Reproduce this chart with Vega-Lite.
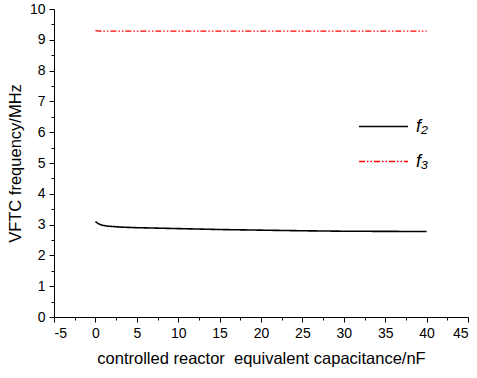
{
  "$schema": "https://vega.github.io/schema/vega-lite/v6.json",
  "width": 414,
  "height": 308,
  "autosize": "none",
  "padding": {"left": 54, "top": 9, "right": 9, "bottom": 61},
  "background": "white",
  "config": {
    "view": {"stroke": null},
    "font": "Liberation Sans",
    "axis": {"grid": false, "domainColor": "black", "tickColor": "black", "labelColor": "black", "titleColor": "black", "labelFont": "Liberation Sans", "titleFont": "Liberation Sans", "labelFontSize": 14, "titleFontWeight": "normal", "domainWidth": 1, "tickWidth": 1}
  },
  "datasets": {
    "curves": [
      {"c": 0, "f": 3.10, "s": "f₂"},
      {"c": 0.3, "f": 3.04, "s": "f₂"},
      {"c": 0.6, "f": 3.00, "s": "f₂"},
      {"c": 1, "f": 2.97, "s": "f₂"},
      {"c": 1.5, "f": 2.95, "s": "f₂"},
      {"c": 2, "f": 2.94, "s": "f₂"},
      {"c": 3, "f": 2.92, "s": "f₂"},
      {"c": 5, "f": 2.90, "s": "f₂"},
      {"c": 7.5, "f": 2.885, "s": "f₂"},
      {"c": 10, "f": 2.87, "s": "f₂"},
      {"c": 15, "f": 2.84, "s": "f₂"},
      {"c": 20, "f": 2.82, "s": "f₂"},
      {"c": 25, "f": 2.80, "s": "f₂"},
      {"c": 30, "f": 2.785, "s": "f₂"},
      {"c": 35, "f": 2.78, "s": "f₂"},
      {"c": 40, "f": 2.775, "s": "f₂"},
      {"c": 0, "f": 9.30, "s": "f₃"},
      {"c": 0.5, "f": 9.285, "s": "f₃"},
      {"c": 10, "f": 9.28, "s": "f₃"},
      {"c": 20, "f": 9.28, "s": "f₃"},
      {"c": 30, "f": 9.28, "s": "f₃"},
      {"c": 40, "f": 9.28, "s": "f₃"}
    ]
  },
  "data": {"name": "curves"},
  "layer": [
    {
      "mark": {"type": "line", "clip": true},
      "encoding": {
        "x": {"field": "c", "type": "quantitative", "scale": {"domain": [-5, 45], "nice": false, "zero": false},
          "axis": {"values": [-5, 0, 5, 10, 15, 20, 25, 30, 35, 40, 45], "labelExpr": "datum.value < 0 ? '-' + abs(datum.value) : datum.label", "tickSize": 5, "labelPadding": 4, "title": "controlled reactor \u00a0equivalent capacitance/nF", "titleFontSize": 16.5, "titlePadding": 10}},
        "y": {"field": "f", "type": "quantitative", "scale": {"domain": [0, 10], "nice": false, "zero": false},
          "axis": {"values": [0, 1, 2, 3, 4, 5, 6, 7, 8, 9, 10], "tickSize": 5, "labelPadding": 4, "title": "VFTC frequency/MHz", "titleFontSize": 16.5, "titlePadding": 6}},
        "color": {"field": "s", "type": "nominal", "scale": {"domain": ["f₂", "f₃"], "range": ["black", "red"]},
          "legend": {"title": null, "orient": "none", "legendX": 304, "legendY": 92, "symbolType": "stroke", "symbolSize": 2400, "symbolStrokeWidth": 2, "labelFontSize": 18, "labelFontStyle": "italic", "labelFont": "Liberation Sans", "labelColor": "black", "rowPadding": -2, "labelOffset": 7,
            "encode": {"symbols": {"update": {"stroke": {"scale": "color", "field": "value"}, "strokeDash": {"scale": "strokeDash", "field": "value"}, "strokeOpacity": {"value": 1}, "opacity": {"value": 1}}}}}},
        "strokeDash": {"field": "s", "type": "nominal", "scale": {"domain": ["f₂", "f₃"], "range": [[1, 0], [6, 2, 1.5, 2, 1.5, 2]]}, "legend": null},
        "strokeWidth": {"field": "s", "type": "nominal", "scale": {"domain": ["f₂", "f₃"], "range": [1.6, 1.3]}, "legend": null}
      }
    },
    {
      "mark": {"type": "line", "opacity": 0},
      "encoding": {
        "x": {"field": "c", "type": "quantitative", "scale": {"domain": [-5, 45], "nice": false, "zero": false},
          "axis": {"orient": "bottom", "values": [-2.5, 2.5, 7.5, 12.5, 17.5, 22.5, 27.5, 32.5, 37.5, 42.5], "tickSize": 3, "labels": false, "domain": false, "title": null}},
        "y": {"field": "f", "type": "quantitative", "scale": {"domain": [0, 10], "nice": false, "zero": false},
          "axis": {"orient": "left", "values": [0.5, 1.5, 2.5, 3.5, 4.5, 5.5, 6.5, 7.5, 8.5, 9.5], "tickSize": 3, "labels": false, "domain": false, "title": null}}
      }
    }
  ],
  "resolve": {"axis": {"x": "independent", "y": "independent"}}
}
